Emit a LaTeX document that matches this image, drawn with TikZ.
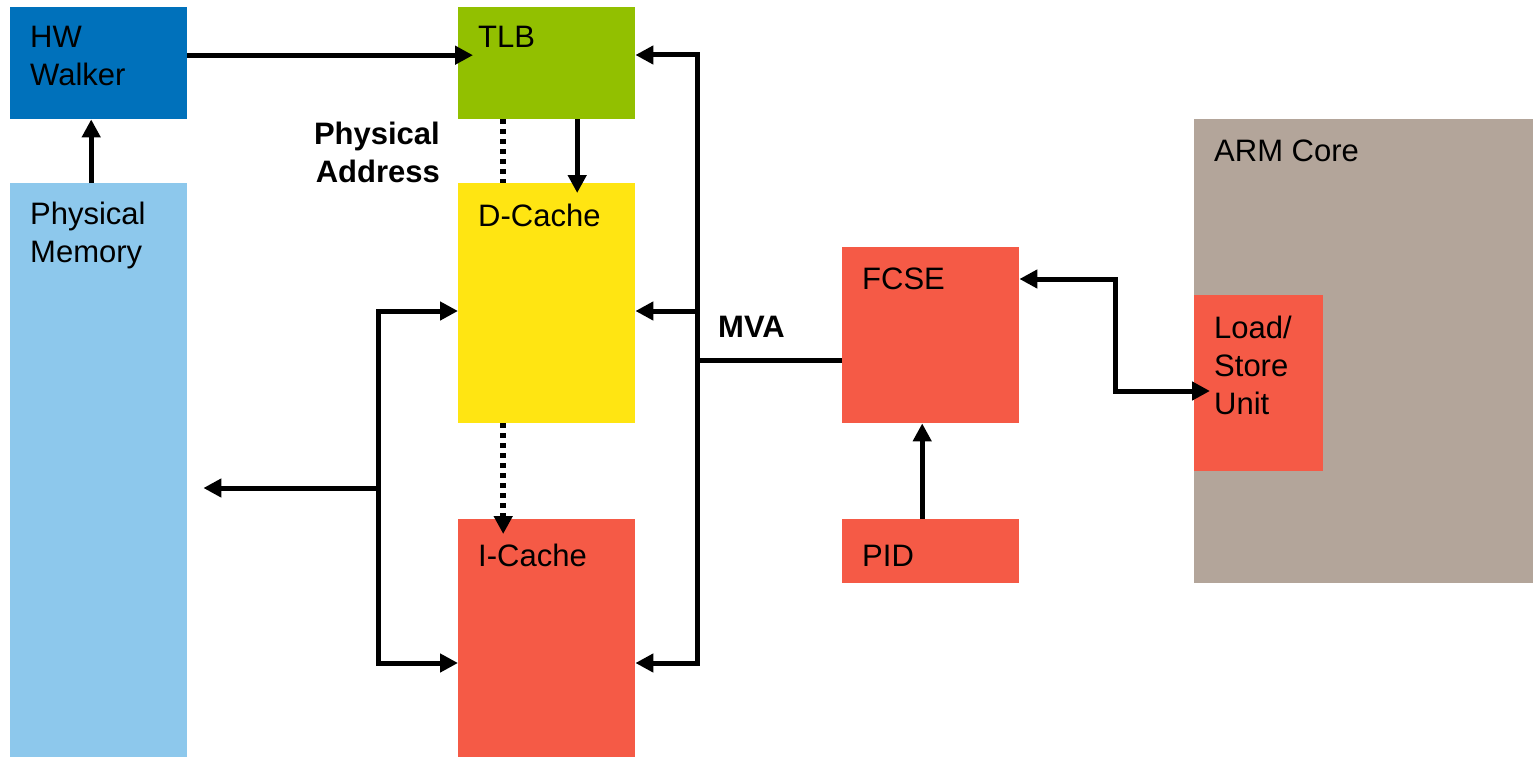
\documentclass[tikz,border=0pt]{standalone}
\usepackage{fontspec}
\setmainfont{Liberation Sans}
\usetikzlibrary{arrows.meta,calc}
\definecolor{hwblue}{RGB}{0,113,187}
\definecolor{memblue}{RGB}{141,200,236}
\definecolor{tlbgreen}{RGB}{146,192,0}
\definecolor{dyellow}{RGB}{255,229,18}
\definecolor{red1}{RGB}{245,90,70}
\definecolor{armgray}{RGB}{179,165,154}
\begin{document}
\begin{tikzpicture}[x=1pt,y=-1pt,
  box/.style={draw=none,inner sep=0pt,anchor=north west},
  lbl/.style={inner sep=0pt,anchor=base west,align=left,font=\fontsize{31pt}{38pt}\selectfont},
  blbl/.style={lbl,font=\fontsize{31pt}{37pt}\selectfont\bfseries},
  wire/.style={line width=5pt,line cap=rect,line join=miter},
  arr/.style={line width=5pt,line join=miter,-{Triangle[length=18pt,width=18pt]}},
  darr/.style={line width=5pt,line join=miter,{Triangle[length=18pt,width=18pt]}-{Triangle[length=18pt,width=18pt]}},
  dots/.style={line width=5.5pt,dash pattern=on 5pt off 5pt}
]
\useasboundingbox (0,0) rectangle (1533,757);
% boxes
\node[box,fill=armgray,minimum width=339pt,minimum height=464pt] (arm) at (1194,119) {};
\node[box,fill=hwblue,minimum width=177pt,minimum height=112pt] (hw) at (10,7) {};
\node[box,fill=memblue,minimum width=177pt,minimum height=574pt] (mem) at (10,183) {};
\node[box,fill=tlbgreen,minimum width=177pt,minimum height=112pt] (tlb) at (458,7) {};
\node[box,fill=dyellow,minimum width=177pt,minimum height=240pt] (dc) at (458,183) {};
\node[box,fill=red1,minimum width=177pt,minimum height=238pt] (ic) at (458,519) {};
\node[box,fill=red1,minimum width=177pt,minimum height=176pt] (fcse) at (842,247) {};
\node[box,fill=red1,minimum width=177pt,minimum height=64pt] (pid) at (842,519) {};
\node[box,fill=red1,minimum width=129pt,minimum height=176pt] (lsu) at (1194,295) {};
% labels (base anchor = baseline of last line)
\node[lbl] (thw) at (30,86) {HW\\Walker};
\node[lbl] (tmem) at (30,262) {Physical\\Memory};
\node[lbl] (ttlb) at (478,48) {TLB};
\node[lbl] (tdc) at (478,226) {D-Cache};
\node[lbl] (tic) at (478,566) {I-Cache};
\node[blbl,anchor=base east,align=right] (tpa) at (440,182) {Physical\\Address};
\node[blbl] (tmva) at (718,337) {MVA};
\node[lbl] (tfcse) at (862,289) {FCSE};
\node[lbl] (tpid) at (862,566) {PID};
\node[lbl] (tarm) at (1214,161) {ARM Core};
\node[lbl] (tlsu) at (1214,414) {Load/\\Store\\Unit};
% coordinates
\coordinate (rbtop) at (697,55);
\coordinate (rbmid) at (697,311);
\coordinate (rbjoin) at (697,360);
\coordinate (rbbot) at (697,663);
\coordinate (lbtop) at (378,311);
\coordinate (lbmid) at (378,488);
\coordinate (lbbot) at (378,663);
\coordinate (j1) at (1115,279);
\coordinate (j2) at (1115,391);
% connectors
\draw[arr] ($(hw.east)+(0,-8)$) -- ($(tlb.west)+(15,-8)$);
\draw[arr] ($(mem.north)+(-7.5,0)$) -- ($(hw.south)+(-7.5,0)$);
\draw[arr] ($(tlb.south)+(30.5,0)$) -- ($(dc.north)+(30.5,10)$);
\draw[dots] ($(tlb.south)+(-43.5,0)$) -- ($(dc.north)+(-43.5,0)$);
\draw[dots,-{Triangle[length=18pt,width=18pt]}] ($(dc.south)+(-43.5,0)$) -- ($(ic.north)+(-43.5,15)$);
% right bus
\draw[wire] (rbtop) -- (rbbot);
\draw[wire,line cap=butt] (fcse.west |- rbjoin) -- (rbjoin);
\draw[arr] (rbtop) -- (tlb.east |- rbtop);
\draw[arr] (rbmid) -- (dc.east |- rbmid);
\draw[arr] (rbbot) -- (ic.east |- rbbot);
% left bus
\draw[wire] (lbtop) -- (lbbot);
\draw[arr] (lbtop) -- (dc.west |- lbtop);
\draw[arr] (lbbot) -- (ic.west |- lbbot);
\draw[arr] (lbmid) -- ($(mem.east |- lbmid)+(16,0)$);
% FCSE <-> LSU
\draw[darr] (fcse.east |- j1) -- (j1) -- (j2) -- ($(lsu.west |- j2)+(16,0)$);
% PID -> FCSE
\draw[arr] ($(pid.north)+(-8.5,0)$) -- ($(fcse.south)+(-8.5,0)$);
\end{tikzpicture}
\end{document}
